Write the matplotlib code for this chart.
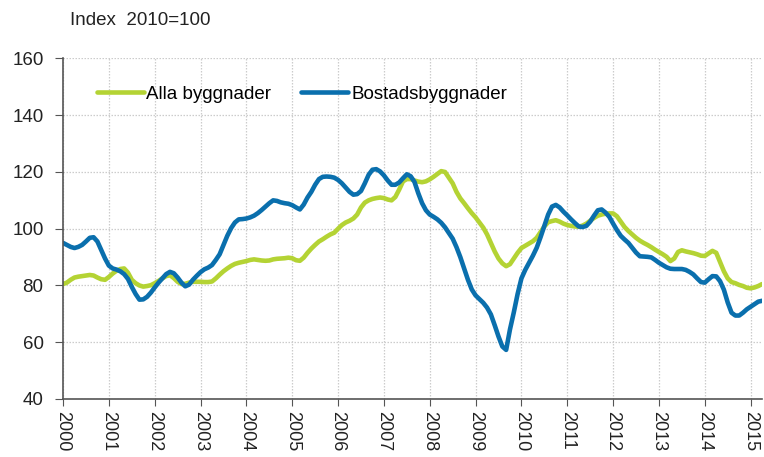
import numpy as np
import matplotlib
matplotlib.use("Agg")
import matplotlib.pyplot as plt

plt.rcParams['font.family'] = ['Liberation Sans', 'DejaVu Sans']

# monthly index values, Jan 2000 .. Apr 2015
alla = [
    80.5, 81.0, 82.0, 82.8, 83.1, 83.3, 83.5, 83.7, 83.5, 82.8, 82.2, 82.0,
    83.0, 84.2, 85.2, 85.8, 86.0, 84.5, 82.0, 80.8, 80.0, 79.6, 79.8, 80.1,
    80.8, 81.6, 82.5, 83.3, 83.6, 82.6, 81.3, 80.5, 80.6, 81.0, 81.3, 81.3,
    81.3, 81.2, 81.2, 81.4, 82.5, 83.8, 85.0, 86.0, 86.9, 87.6, 88.0, 88.3,
    88.6, 89.0, 89.2, 89.0, 88.8, 88.7, 88.8, 89.2, 89.4, 89.5, 89.6, 89.8,
    89.6, 88.9, 88.7, 89.8, 91.5, 93.0, 94.3, 95.5, 96.3, 97.2, 98.0, 98.6,
    100.0, 101.3, 102.2, 102.8, 103.6, 105.0, 107.5, 109.2, 110.0, 110.5, 110.8, 111.0,
    110.8, 110.3, 110.0, 111.2, 113.8, 116.7, 117.5, 117.5, 117.0, 116.6, 116.4, 116.7,
    117.4, 118.3, 119.3, 120.3, 120.0, 118.0, 116.0, 113.0, 110.7, 109.0, 107.2, 105.5,
    104.0, 102.2, 100.4, 98.0, 95.0, 92.0, 89.5, 87.8, 86.8, 87.5, 89.5, 91.5,
    93.2, 94.0, 94.8, 95.6, 96.8, 98.8, 100.8, 102.3, 102.7, 103.0, 102.5, 101.8,
    101.3, 101.0, 100.8, 100.7, 101.1, 101.8, 102.8, 103.8, 104.6, 105.0, 105.3, 105.4,
    105.4, 104.4, 102.5, 100.6, 99.2, 98.0, 96.8, 95.8, 95.0, 94.3, 93.5, 92.6,
    91.8, 91.0, 90.1, 88.6, 89.5, 91.8, 92.4, 92.0, 91.7, 91.4, 91.0, 90.5,
    90.4, 91.3, 92.2, 91.5, 88.2, 85.0, 82.5, 81.2, 80.8, 80.2, 79.8, 79.2,
    79.0, 79.3, 79.8, 80.5,
]

bostad = [
    95.0, 94.3, 93.6, 93.2, 93.6, 94.3, 95.5, 96.8, 97.0, 95.5, 92.5, 89.5,
    87.0, 86.0, 85.6, 85.0, 84.0, 82.3, 79.5, 77.0, 75.0, 75.1, 76.0, 77.5,
    79.3, 81.0, 82.5, 84.0, 84.8, 84.3, 82.8, 81.0, 79.7, 80.3, 82.0, 83.4,
    84.7, 85.7, 86.3, 87.2, 89.0, 91.0, 94.3, 97.5, 100.2, 102.2, 103.3, 103.4,
    103.6, 104.0, 104.6, 105.5, 106.6, 107.8, 109.0, 110.0, 109.8, 109.3, 109.0, 108.8,
    108.3, 107.5, 106.8, 108.5, 111.0, 113.0, 115.5, 117.5, 118.3, 118.4, 118.3, 118.0,
    117.2, 116.0, 114.5, 113.0, 112.0, 112.2, 113.3, 116.0, 119.0, 120.8, 121.0, 120.2,
    118.8, 117.0, 115.5, 115.5, 116.3, 117.8, 119.2, 118.5, 116.5, 112.5, 109.0, 106.5,
    105.0, 104.2, 103.3, 102.1, 100.5, 98.5, 96.5, 93.5, 90.0, 86.0, 82.0, 78.6,
    76.5, 75.2, 73.9, 72.2, 69.8, 66.0, 62.0, 58.5, 57.3, 64.5, 70.5, 77.0,
    82.5, 85.5, 88.0, 90.5, 93.3, 97.0, 101.0, 105.0, 107.8, 108.4, 107.5, 106.0,
    104.7, 103.3, 102.0, 100.8, 100.6, 101.0, 102.5, 104.6, 106.5, 106.8, 105.7, 104.2,
    101.8, 99.5, 97.5, 96.2, 95.0, 93.3, 91.6, 90.3, 90.2, 90.1, 89.9, 89.0,
    88.0, 87.2, 86.4, 85.9, 85.8, 85.8, 85.8, 85.5, 84.8, 83.9, 82.5, 81.2,
    81.0, 82.2, 83.3, 83.2, 81.5, 78.5, 74.0, 70.4, 69.4, 69.4, 70.4, 71.6,
    72.5, 73.4, 74.3, 74.6,
]

years = list(range(2000, 2016))
t = 2000 + np.arange(len(alla)) / 12.0

fig = plt.figure(figsize=(7.64, 4.57), dpi=100)
ax = fig.add_axes([0.0825, 0.127, 0.915, 0.745])

ax.plot(t, alla, color="#B4D334", lw=3.3, label="Alla byggnader", solid_capstyle="round")
ax.plot(t, bostad, color="#0A6FAD", lw=3.3, label="Bostadsbyggnader", solid_capstyle="round")

ax.set_xlim(2000, 2015.25)
ax.set_ylim(40, 160)
ax.set_yticks(range(40, 161, 20))
ax.set_xticks(years)
ax.set_xticklabels([str(y) for y in years], rotation=270, fontsize=13, color="#222222")
ax.tick_params(axis="y", labelsize=13.5, colors="#222222", length=6, color="#555555", pad=8)
ax.tick_params(axis="x", length=5, color="#555555", pad=4)

ax.grid(True, color="#cccccc", linestyle=(0, (1.2, 1.2)), lw=0.9)
ax.set_axisbelow(True)
for s in ["top", "right"]:
    ax.spines[s].set_visible(False)
for s in ["left", "bottom"]:
    ax.spines[s].set_color("#555555")
    ax.spines[s].set_linewidth(1.2)

ax.legend(loc="upper left", bbox_to_anchor=(0.024, 0.97), ncol=2, frameon=False,
          fontsize=13.5, handlelength=2.5, handletextpad=0.15, columnspacing=1.6)

fig.text(0.092, 0.955, "Index  2010=100", fontsize=13.5, color="#222222", va="center")

plt.savefig("out.png", dpi=100)
